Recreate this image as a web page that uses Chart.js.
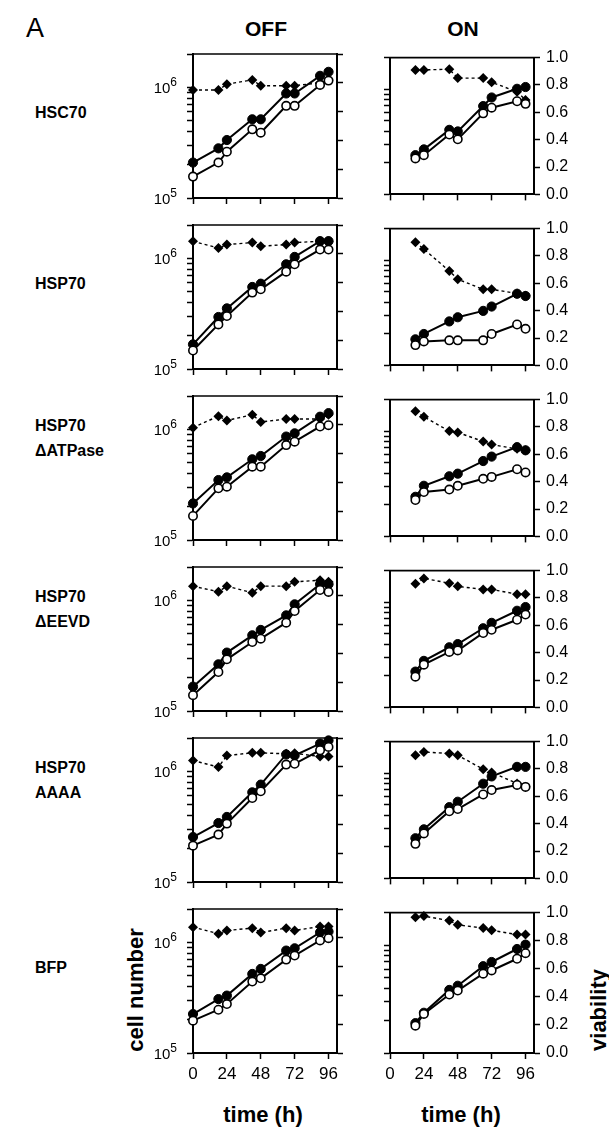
<!DOCTYPE html>
<html>
<head>
<meta charset="utf-8">
<script src="https://cdn.jsdelivr.net/npm/chart.js@4.4.0/dist/chart.umd.min.js"></script>
<style>
  body { margin: 0; background: #fff; }
  #fig { position: relative; width: 609px; height: 1128px; overflow: hidden;
         font-family: "Liberation Sans", Arial, sans-serif; color: #000; }
  #fig canvas { position: absolute; }
  .lbl { position: absolute; white-space: nowrap; line-height: 1; transform: translate(-50%, -50%); }
  .row { position: absolute; left: 35px; font-weight: bold; font-size: 16px; line-height: 25px; white-space: nowrap; }
  .head { font-weight: bold; font-size: 21px; }
  .axt { font-weight: bold; font-size: 22px; }
</style>
</head>
<body>
<div id="fig">
  <div class="lbl" style="left:35px; top:28px; font-size:27px;">A</div>
  <div class="lbl head" style="left:266px; top:28px;">OFF</div>
  <div class="lbl head" style="left:463px; top:28px;">ON</div>
  <div class="lbl axt" style="left:263px; top:1115px;">time (h)</div>
  <div class="lbl axt" style="left:461px; top:1115px;">time (h)</div>
  <div class="lbl axt" style="left:136px; top:990px; transform: translate(-50%, -50%) rotate(-90deg);">cell number</div>
  <div class="lbl axt" style="left:599px; top:1010px; transform: translate(-50%, -50%) rotate(-90deg);">viability</div>
</div>
<script>
// sampling times (h)
const timesOff = [0, 18, 24, 42, 48, 66, 72, 90, 96];
const timesOn = [18, 24, 42, 48, 66, 72, 90, 96];

// tick labels
const timeTicks = [0, 24, 48, 72, 96];
const viabilityTicks = [0, 0.2, 0.4, 0.6, 0.8, 1.0];
const cellTicks = [1e5, 2e5, 3e5, 4e5, 5e5, 6e5, 7e5, 8e5, 9e5, 1e6, 2e6];
const cellTickLabels = [[1e5, '10', '5'], [1e6, '10', '6']]; // value, base, exponent

const rowNames = [['HSC70'], ['HSP70'], ['HSP70', '\u0394ATPase'], ['HSP70', '\u0394EEVD'], ['HSP70', 'AAAA'], ['BFP']];

// filled circles (total), open circles (live), diamonds (viability)
const hsc70OffTotal = [2.09e5, 2.81e5, 3.34e5, 5.14e5, 5.14e5, 8.8e5, 8.8e5, 1.27e6, 1.38e6];
const hsc70OffLive  = [1.56e5, 2.09e5, 2.62e5, 4.17e5, 3.89e5, 6.8e5, 6.8e5, 1.05e6, 1.15e6];
const hsc70OffViab  = [0.75, 0.75, 0.79, 0.82, 0.78, 0.78, 0.78, 0.80, 0.82];
const hsc70OnTotal  = [2.36e5, 2.68e5, 4.11e5, 3.97e5, 6.92e5, 8.35e5, 1.01e6, 1.05e6];
const hsc70OnLive   = [2.2e5, 2.36e5, 3.71e5, 3.34e5, 5.9e5, 6.68e5, 7.69e5, 7.26e5];
const hsc70OnViab   = [0.91, 0.91, 0.915, 0.85, 0.85, 0.82, 0.75, 0.69];

const hsp70OffTotal = [1.67e5, 2.95e5, 3.53e5, 5.51e5, 5.9e5, 8.83e5, 1.03e6, 1.43e6, 1.43e6];
const hsp70OffLive  = [1.47e5, 2.53e5, 3.01e5, 4.9e5, 5.25e5, 7.58e5, 8.83e5, 1.2e6, 1.2e6];
const hsp70OffViab  = [0.887, 0.84, 0.864, 0.878, 0.853, 0.864, 0.878, 0.887, 0.887];
const hsp70OnTotal  = [1.77e5, 1.99e5, 2.62e5, 2.87e5, 3.3e5, 3.63e5, 4.8e5, 4.57e5];
const hsp70OnLive   = [1.56e5, 1.69e5, 1.73e5, 1.73e5, 1.73e5, 1.99e5, 2.45e5, 2.23e5];
const hsp70OnViab   = [0.90, 0.85, 0.69, 0.63, 0.556, 0.556, 0.526, 0.51];

const atpaseOffTotal = [2.14e5, 3.48e5, 3.68e5, 5.36e5, 5.74e5, 8.6e5, 9.2e5, 1.3e6, 1.4e6];
const atpaseOffLive  = [1.65e5, 2.93e5, 3.03e5, 4.6e5, 4.6e5, 7.2e5, 7.74e5, 1.06e6, 1.09e6];
const atpaseOffViab  = [0.78, 0.86, 0.83, 0.87, 0.82, 0.84, 0.84, 0.84, 0.87];
const atpaseOnTotal  = [2.38e5, 3.03e5, 3.73e5, 3.95e5, 5.21e5, 5.74e5, 7.06e5, 6.59e5];
const atpaseOnLive   = [2.22e5, 2.64e5, 2.79e5, 3.03e5, 3.53e5, 3.68e5, 4.35e5, 4.06e5];
const atpaseOnViab   = [0.915, 0.874, 0.77, 0.76, 0.694, 0.671, 0.64, 0.63];

const eevdOffTotal = [1.66e5, 2.64e5, 3.37e5, 4.83e5, 5.4e5, 7.31e5, 9.2e5, 1.4e6, 1.4e6];
const eevdOffLive  = [1.39e5, 2.25e5, 2.93e5, 4.2e5, 4.5e5, 6.28e5, 8.0e5, 1.24e6, 1.19e6];
const eevdOffViab  = [0.867, 0.828, 0.867, 0.821, 0.867, 0.867, 0.897, 0.908, 0.897];
const eevdOnTotal  = [2.19e5, 2.77e5, 3.73e5, 4.0e5, 5.66e5, 6.37e5, 8.3e5, 9.0e5];
const eevdOnLive   = [1.96e5, 2.55e5, 3.37e5, 3.48e5, 5.1e5, 5.47e5, 6.82e5, 7.64e5];
const eevdOnViab   = [0.903, 0.943, 0.908, 0.885, 0.862, 0.862, 0.828, 0.828];

const aaaaOffTotal = [2.55e5, 3.41e5, 3.87e5, 6.46e5, 7.58e5, 1.42e6, 1.39e6, 1.78e6, 1.9e6];
const aaaaOffLive  = [2.13e5, 2.68e5, 3.37e5, 5.74e5, 6.6e5, 1.15e6, 1.17e6, 1.55e6, 1.66e6];
const aaaaOffViab  = [0.844, 0.798, 0.878, 0.897, 0.897, 0.89, 0.894, 0.871, 0.871];
const aaaaOnTotal  = [2.41e5, 2.93e5, 4.76e5, 5.36e5, 7.95e5, 9.33e5, 1.15e6, 1.15e6];
const aaaaOnLive   = [2.13e5, 2.68e5, 4.35e5, 4.57e5, 6.28e5, 6.92e5, 7.74e5, 7.42e5];
const aaaaOnViab   = [0.90, 0.924, 0.913, 0.90, 0.798, 0.775, 0.694, 0.67];

const bfpOffTotal = [2.25e5, 3.07e5, 3.3e5, 5.18e5, 5.75e5, 8.42e5, 8.83e5, 1.23e6, 1.25e6];
const bfpOffLive  = [1.96e5, 2.46e5, 2.77e5, 4.42e5, 4.73e5, 6.98e5, 7.59e5, 1.04e6, 1.09e6];
const bfpOffViab  = [0.874, 0.828, 0.851, 0.867, 0.837, 0.867, 0.851, 0.878, 0.878];
const bfpOnTotal  = [1.89e5, 2.36e5, 3.84e5, 4.2e5, 6.37e5, 6.97e5, 9.2e5, 1.01e6];
const bfpOnLive   = [1.79e5, 2.3e5, 3.48e5, 3.79e5, 5.43e5, 5.82e5, 7.47e5, 8.41e5];
const bfpOnViab   = [0.966, 0.975, 0.943, 0.913, 0.89, 0.874, 0.844, 0.844];

const rows = [
  { off: [hsc70OffTotal, hsc70OffLive, hsc70OffViab], on: [hsc70OnTotal, hsc70OnLive, hsc70OnViab] },
  { off: [hsp70OffTotal, hsp70OffLive, hsp70OffViab], on: [hsp70OnTotal, hsp70OnLive, hsp70OnViab] },
  { off: [atpaseOffTotal, atpaseOffLive, atpaseOffViab], on: [atpaseOnTotal, atpaseOnLive, atpaseOnViab] },
  { off: [eevdOffTotal, eevdOffLive, eevdOffViab], on: [eevdOnTotal, eevdOnLive, eevdOnViab] },
  { off: [aaaaOffTotal, aaaaOffLive, aaaaOffViab], on: [aaaaOnTotal, aaaaOnLive, aaaaOnViab] },
  { off: [bfpOffTotal, bfpOffLive, bfpOffViab], on: [bfpOnTotal, bfpOnLive, bfpOnViab] }
];

// layout of the plot boxes
const plotH = 144, plotW = 144;
const rowBottoms = [198, 369, 540, 711, 882, 1053];
const colLeft = { off: 193, on: 390 };
const padTop = 12;

const fig = document.getElementById('fig');

// top border of each box
const framePlugin = {
  id: 'frame',
  beforeDatasetsDraw(chart) {
    const a = chart.chartArea, ctx = chart.ctx;
    ctx.save();
    ctx.strokeStyle = '#000';
    ctx.lineWidth = 1.6;
    ctx.beginPath();
    ctx.moveTo(a.left - 1, a.top);
    ctx.lineTo(a.right + 1, a.top);
    ctx.stroke();
    ctx.restore();
  }
};

// 10^5 / 10^6 labels with a raised exponent
const powerLabels = {
  id: 'powerLabels',
  afterDraw(chart, args, opts) {
    if (!opts.show) return;
    const s = chart.scales.yc, ctx = chart.ctx;
    ctx.save();
    ctx.fillStyle = '#000';
    ctx.textBaseline = 'alphabetic';
    cellTickLabels.forEach(([v, base, exp]) => {
      const y = s.getPixelForValue(v);
      const right = s.right - 16;
      ctx.font = '12px "Liberation Sans", Arial, sans-serif';
      const ew = ctx.measureText(exp).width;
      ctx.textAlign = 'right';
      ctx.fillText(exp, right, y - 1);
      ctx.font = '15px "Liberation Sans", Arial, sans-serif';
      ctx.fillText(base, right - ew, y + 6);
    });
    ctx.restore();
  }
};

function pts(xs, arr) {
  return arr.map((v, i) => ({ x: xs[i], y: v }));
}

function makePanel(r, col) {
  const isOn = col === 'on';
  const isBottom = r === rows.length - 1;
  const xs = isOn ? timesOn : timesOff;
  const [total, live, viab] = rows[r][col];
  const leftW = isOn ? 10 : 60;
  const rightW = isOn ? 46 : 10;
  const bottomH = isBottom ? 36 : 12;

  const canvas = document.createElement('canvas');
  canvas.width = leftW + plotW + rightW;
  canvas.height = padTop + plotH + bottomH;
  canvas.style.left = (colLeft[col] - leftW) + 'px';
  canvas.style.top = (rowBottoms[r] - plotH - padTop) + 'px';
  fig.appendChild(canvas);

  const tickGrid = { drawOnChartArea: false, tickLength: 6, tickWidth: 1.5, tickColor: '#000' };
  const axisBorder = { color: '#000', width: 2 };

  new Chart(canvas, {
    type: 'line',
    data: {
      datasets: [
        { data: pts(xs, live), yAxisID: 'yc', order: 1, borderColor: '#000', borderWidth: 2,
          pointRadius: 4.2, pointBackgroundColor: '#fff', pointBorderColor: '#000', pointBorderWidth: 1.6 },
        { data: pts(xs, total), yAxisID: 'yc', order: 2, borderColor: '#000', borderWidth: 2,
          pointRadius: 4.6, pointBackgroundColor: '#000', pointBorderColor: '#000', pointBorderWidth: 1 },
        { data: pts(xs, viab), yAxisID: 'yv', order: 3, borderColor: '#000', borderWidth: 1.4, borderDash: [3, 3],
          pointStyle: 'rectRot', pointRadius: 5, pointBackgroundColor: '#000', pointBorderColor: '#000', pointBorderWidth: 0 }
      ]
    },
    options: {
      animation: false,
      responsive: false,
      events: [],
      clip: false,
      layout: { padding: { top: padTop, left: 0, right: 0, bottom: 0 } },
      elements: { line: { tension: 0 } },
      plugins: { legend: { display: false }, tooltip: { enabled: false }, powerLabels: { show: !isOn } },
      scales: {
        x: {
          type: 'linear', position: 'bottom', min: 0, max: 102,
          afterBuildTicks: s => { s.ticks = timeTicks.map(v => ({ value: v })); },
          afterFit: s => { s.height = bottomH; },
          grid: tickGrid, border: axisBorder,
          ticks: { display: isBottom, color: '#000', padding: 5, maxRotation: 0, autoSkip: false,
                   font: { family: 'Liberation Sans', size: 17 } }
        },
        yc: {
          type: 'logarithmic', position: 'left', min: 1e5, max: 2e6,
          afterBuildTicks: s => { s.ticks = cellTicks.map(v => ({ value: v })); },
          afterFit: s => { s.width = leftW; },
          grid: tickGrid, border: axisBorder,
          ticks: { display: false, autoSkip: false }
        },
        yv: {
          type: 'linear', position: 'right', min: 0, max: 1,
          afterBuildTicks: s => { s.ticks = viabilityTicks.map(v => ({ value: v })); },
          afterFit: s => { s.width = rightW; },
          grid: tickGrid, border: axisBorder,
          ticks: { display: isOn, color: '#000', padding: 6, autoSkip: false,
                   font: { family: 'Liberation Sans', size: 16 },
                   callback: v => Number(v).toFixed(1) }
        }
      }
    },
    plugins: [framePlugin, powerLabels]
  });
}

rows.forEach((row, r) => {
  makePanel(r, 'off');
  makePanel(r, 'on');
  // row label
  const div = document.createElement('div');
  div.className = 'row';
  const lines = rowNames[r];
  div.innerHTML = lines.join('<br>');
  const top = rowBottoms[r] - plotH;
  div.style.top = (lines.length === 1 ? top + 46 : top + 17) + 'px';
  fig.appendChild(div);
});
</script>
</body>
</html>
